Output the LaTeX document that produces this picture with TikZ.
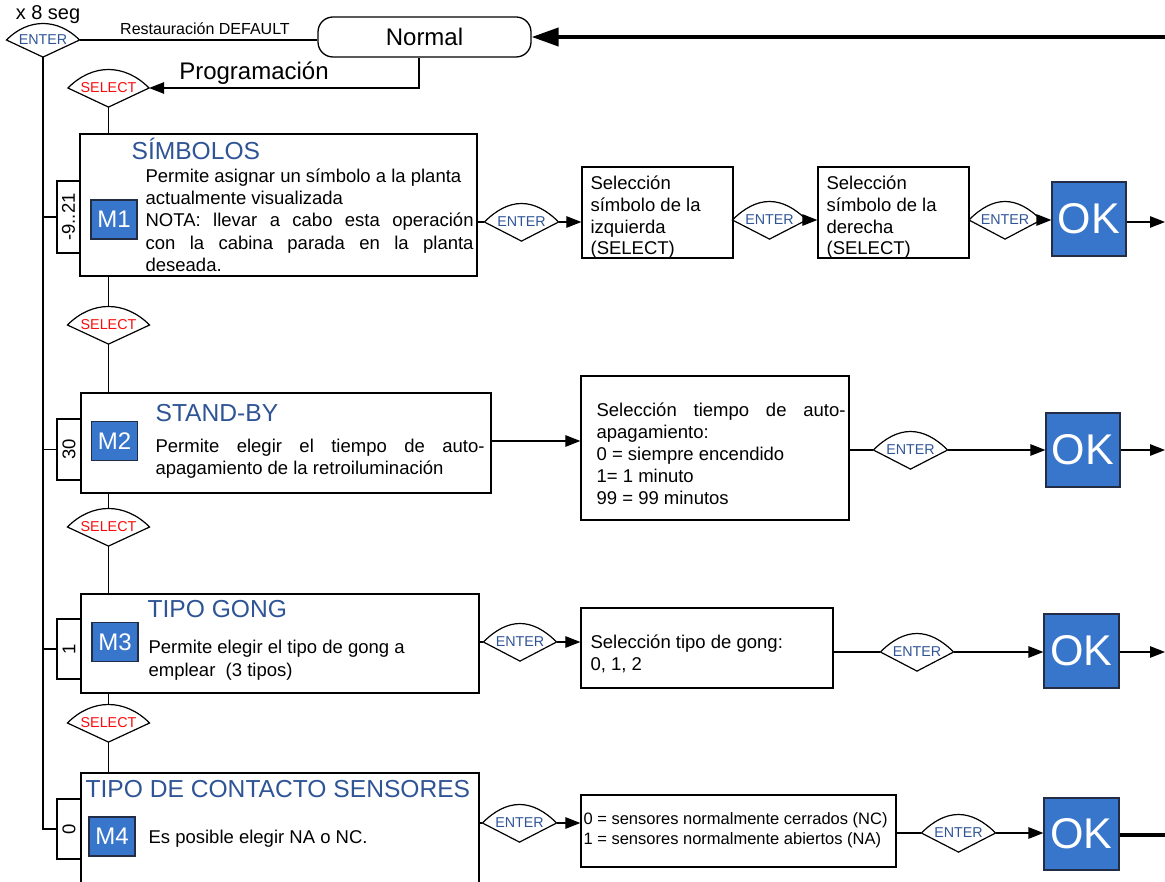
\documentclass[tikz,border=0pt]{standalone}
\usepackage{fontspec}
\setmainfont{Liberation Sans}
\usetikzlibrary{arrows.meta,calc}
\definecolor{okblue}{RGB}{56,118,204}
\definecolor{okborder}{RGB}{35,45,70}
\definecolor{titleblue}{RGB}{47,84,150}
\definecolor{enterblue}{RGB}{47,84,150}
\definecolor{selred}{RGB}{250,10,10}
\newcommand\fsz[1]{\fontsize{#1}{#1}\selectfont}
\newcommand\decis[6]{%
  \node[decnode, minimum width=#4, minimum height={2*#5}] (#1) at (#2,#3) {\raisebox{1.5pt}{#6}};
  \draw[dline] (#1.west) .. controls +({#5*4/3},{-#5*4/3}) and +({-#5*4/3},{-#5*4/3}) .. (#1.east) -- (#1.south) -- cycle;
}
\newcommand\ent{\textcolor{enterblue}{ENTER}}
\newcommand\sel{\textcolor{selred}{SELECT}}
\begin{document}
\begin{tikzpicture}[x=1pt,y=-1pt,line width=1.2pt,
  lbl/.style={inner sep=0,anchor=base},
  mbox/.style={draw,line width=1.3pt,inner sep=0},
  selbox/.style={draw,line width=1.3pt,inner sep=0},
  tabbox/.style={draw,line width=1.3pt,inner sep=0,font=\fsz{18.5}},
  badge/.style={draw=okborder,fill=okblue,line width=1.2pt,inner sep=0,minimum width=46,minimum height=39,text=white,font=\fsz{24}},
  okbox/.style={draw=okborder,fill=okblue,line width=1.2pt,inner sep=0,minimum width=74,minimum height=74,text=white,font=\fsz{43}},
  decnode/.style={inner sep=0,font=\fsz{14.3}},
  dline/.style={line width=1.2pt,line join=miter},
  title/.style={inner sep=0,anchor=base west,text=titleblue,font=\fsz{24.6}},
  body/.style={inner sep=0,anchor=north west,align=left,font=\fontsize{18.5}{22.2}\selectfont},
  arr/.style={-{Triangle[length=15pt,width=11.5pt]}},
]
\useasboundingbox (0,0) rectangle (1165,882);

% ---------- top ----------
\node[draw,line width=1.3pt,rounded corners=15pt,minimum width=213,minimum height=40,inner sep=0,font=\fsz{24}] (normal) at (424.5,37) {Normal};
\coordinate (rin) at (1165,37);
\draw[line width=4pt,-{Triangle[length=27pt,width=18pt]}] (rin) -- (normal.east);

\node[lbl,font=\fsz{20}] (xseg) at (48,20) {x 8 seg};
\node[lbl,font=\fsz{16}] (rest) at (205,35) {Restauración DEFAULT};
\node[lbl,font=\fsz{24}] (prog) at (254,80) {Programación};

\decis{enter0}{43}{40}{72}{16.5}{\ent}
\decis{sel0}{108.5}{88}{80}{18.5}{\sel}
\draw (enter0.east) -- (enter0.east -| normal.west);
\draw[arr] ([xshift=-5.5pt]normal.south) |- (sel0.east);

% ---------- M boxes ----------
\node[mbox,minimum width=397,minimum height=142] (m1) at (278.5,205) {};
\node[mbox,minimum width=410,minimum height=100] (m2) at (286,443) {};
\node[mbox,minimum width=398,minimum height=99] (m3) at (280,643.5) {};
\node[mbox,minimum width=398,minimum height=122] (m4) at (280,834) {};

\node[tabbox,minimum width=23,minimum height=72] (tab1) at (68.5,217) {\rotatebox{90}{-9..21}};
\node[tabbox,minimum width=24,minimum height=61] (tab2) at (69,449.5) {\rotatebox{90}{30}};
\node[tabbox,minimum width=24,minimum height=60] (tab3) at (69,649) {\rotatebox{90}{1}};
\node[tabbox,minimum width=24,minimum height=60] (tab4) at (69,829) {\rotatebox{90}{0}};

\node[badge] (b1) at (114,219.5) {M1};
\node[badge] (b2) at (114.5,441) {M2};
\node[badge] (b3) at (115,642) {M3};
\node[badge] (b4) at (112,836.5) {M4};

\node[title] (t1) at (131,159.6) {SÍMBOLOS};
\node[title] (t2) at (155,421.6) {STAND-BY};
\node[title] (t3) at (147,617.6) {TIPO GONG};
\node[title] (t4) at (85,797.6) {TIPO DE CONTACTO SENSORES};

\node[body] (d1) at (145,164.4) {\rule{0pt}{17.6pt}Permite asignar un símbolo a la planta\\
actualmente visualizada\\
\makebox[328pt][s]{NOTA: llevar a cabo esta operación}\\
\makebox[328pt][s]{con la cabina parada en la planta}\\
deseada.};
\node[body,font=\fontsize{18.5}{22}\selectfont] (d2) at (155,434.4) {\rule{0pt}{17.6pt}\makebox[329pt][s]{Permite elegir el tiempo de auto-}\\
apagamiento de la retroiluminación};
\node[body,font=\fontsize{18.5}{23}\selectfont] (d3) at (148,635.4) {\rule{0pt}{17.6pt}Permite elegir el tipo de gong a\\
emplear~ (3 tipos)};
\node[lbl,anchor=base west,font=\fsz{18.5}] (d4) at (148,843) {Es posible elegir NA o NC.};

% ---------- vertical SELECT chain ----------
\decis{sel1}{108.5}{325}{81}{18.5}{\sel}
\decis{sel2}{108.5}{527}{81}{18.5}{\sel}
\decis{sel3}{108.5}{723}{81}{18.5}{\sel}
\draw (sel0.south) -- (sel0.south |- m1.north);
\draw (sel1.north |- m1.south) -- (sel1.north);
\draw (sel1.south) -- (sel1.south |- m2.north);
\draw (sel2.north |- m2.south) -- (sel2.north);
\draw (sel2.south) -- (sel2.south |- m3.north);
\draw (sel3.north |- m3.south) -- (sel3.north);
\draw (sel3.south) -- (sel3.south |- m4.north);

% left return line
\draw (enter0.south) |- (tab4.west);
\draw (enter0.south |- tab1.west) -- (tab1.west);
\draw (enter0.south |- tab2.west) -- (tab2.west);
\draw (enter0.south |- tab3.west) -- (tab3.west);

% ---------- row 1 ----------
\decis{enter1}{521.5}{222}{73}{18.5}{\ent}
\node[selbox,minimum width=151,minimum height=91] (s1a) at (657.5,212.5) {};
\node[body,font=\fontsize{18.5}{21.8}\selectfont] (s1at) at (590,171.4) {\rule{0pt}{17.6pt}Selección\\símbolo de la\\izquierda\\(SELECT)};
\decis{enter2}{769.5}{220}{73}{18.5}{\ent}
\node[selbox,minimum width=151,minimum height=91] (s1b) at (893.5,212.5) {};
\node[body,font=\fontsize{18.5}{21.8}\selectfont] (s1bt) at (826,171.4) {\rule{0pt}{17.6pt}Selección\\símbolo de la\\derecha\\(SELECT)};
\decis{enter3}{1005}{220}{71}{18.5}{\ent}
\node[okbox] (ok1) at (1089,219) {OK};
\coordinate (out1) at (1165,222);
\draw (m1.east |- enter1.west) -- (enter1.west);
\draw[arr] (enter1.east) -- (enter1.east -| s1a.west);
\draw (s1a.east |- enter2.west) -- (enter2.west);
\draw[arr] (enter2.east) -- (enter2.east -| s1b.west);
\draw (s1b.east |- enter3.west) -- (enter3.west);
\draw[arr] (enter3.east) -- (enter3.east -| ok1.west);
\draw[arr] (ok1.east |- out1) -- (out1);

% ---------- row 2 ----------
\node[selbox,minimum width=268,minimum height=144] (s2) at (715,448) {};
\node[body,font=\fontsize{18.5}{22}\selectfont] (s2t) at (596,398.4) {\rule{0pt}{17.6pt}\makebox[249pt][s]{Selección tiempo de auto-}\\
apagamiento:\\
0 = siempre encendido\\
1= 1 minuto\\
99 = 99 minutos};
\decis{enter4}{910.5}{450}{73}{18.5}{\ent}
\node[okbox] (ok2) at (1083,450) {OK};
\coordinate (out2) at (1165,450);
\draw[arr] (m2.east |- 0,441) -- (s2.west |- 0,441);
\draw (s2.east |- enter4.west) -- (enter4.west);
\draw[arr] (enter4.east) -- (enter4.east -| ok2.west);
\draw[arr] (ok2.east |- out2) -- (out2);

% ---------- row 3 ----------
\decis{enter5}{520}{642}{72}{18.5}{\ent}
\node[selbox,minimum width=252,minimum height=80] (s3) at (707,648) {};
\node[body,font=\fontsize{18.5}{21.5}\selectfont] (s3t) at (590,630.4) {\rule{0pt}{17.6pt}Selección tipo de gong:\\0, 1, 2};
\decis{enter6}{917}{652}{72}{18.5}{\ent}
\node[okbox,minimum width=75] (ok3) at (1081.5,651) {OK};
\coordinate (out3) at (1165,652);
\draw (m3.east |- enter5.west) -- (enter5.west);
\draw[arr] (enter5.east) -- (enter5.east -| s3.west);
\draw (s3.east |- enter6.west) -- (enter6.west);
\draw[arr] (enter6.east) -- (enter6.east -| ok3.west);
\draw[arr] (ok3.east |- out3) -- (out3);

% ---------- row 4 ----------
\decis{enter7}{519.5}{823}{73}{18.5}{\ent}
\node[selbox,minimum width=315,minimum height=72] (s4) at (738.5,831) {};
\node[body,font=\fontsize{16.5}{20}\selectfont] (s4t) at (583,808.3) {\rule{0pt}{15.7pt}0 = sensores normalmente cerrados (NC)\\1 = sensores normalmente abiertos (NA)};
\decis{enter8}{958.5}{833}{73}{18.5}{\ent}
\node[okbox,minimum width=75,minimum height=72] (ok4) at (1081.5,834) {OK};
\coordinate (out4) at (1165,835);
\draw (m4.east |- enter7.west) -- (enter7.west);
\draw[arr] (enter7.east) -- (enter7.east -| s4.west);
\draw (s4.east |- enter8.west) -- (enter8.west);
\draw[arr] (enter8.east) -- (enter8.east -| ok4.west);
\draw[line width=4pt] (ok4.east |- out4) -- (out4);
\end{tikzpicture}
\end{document}
